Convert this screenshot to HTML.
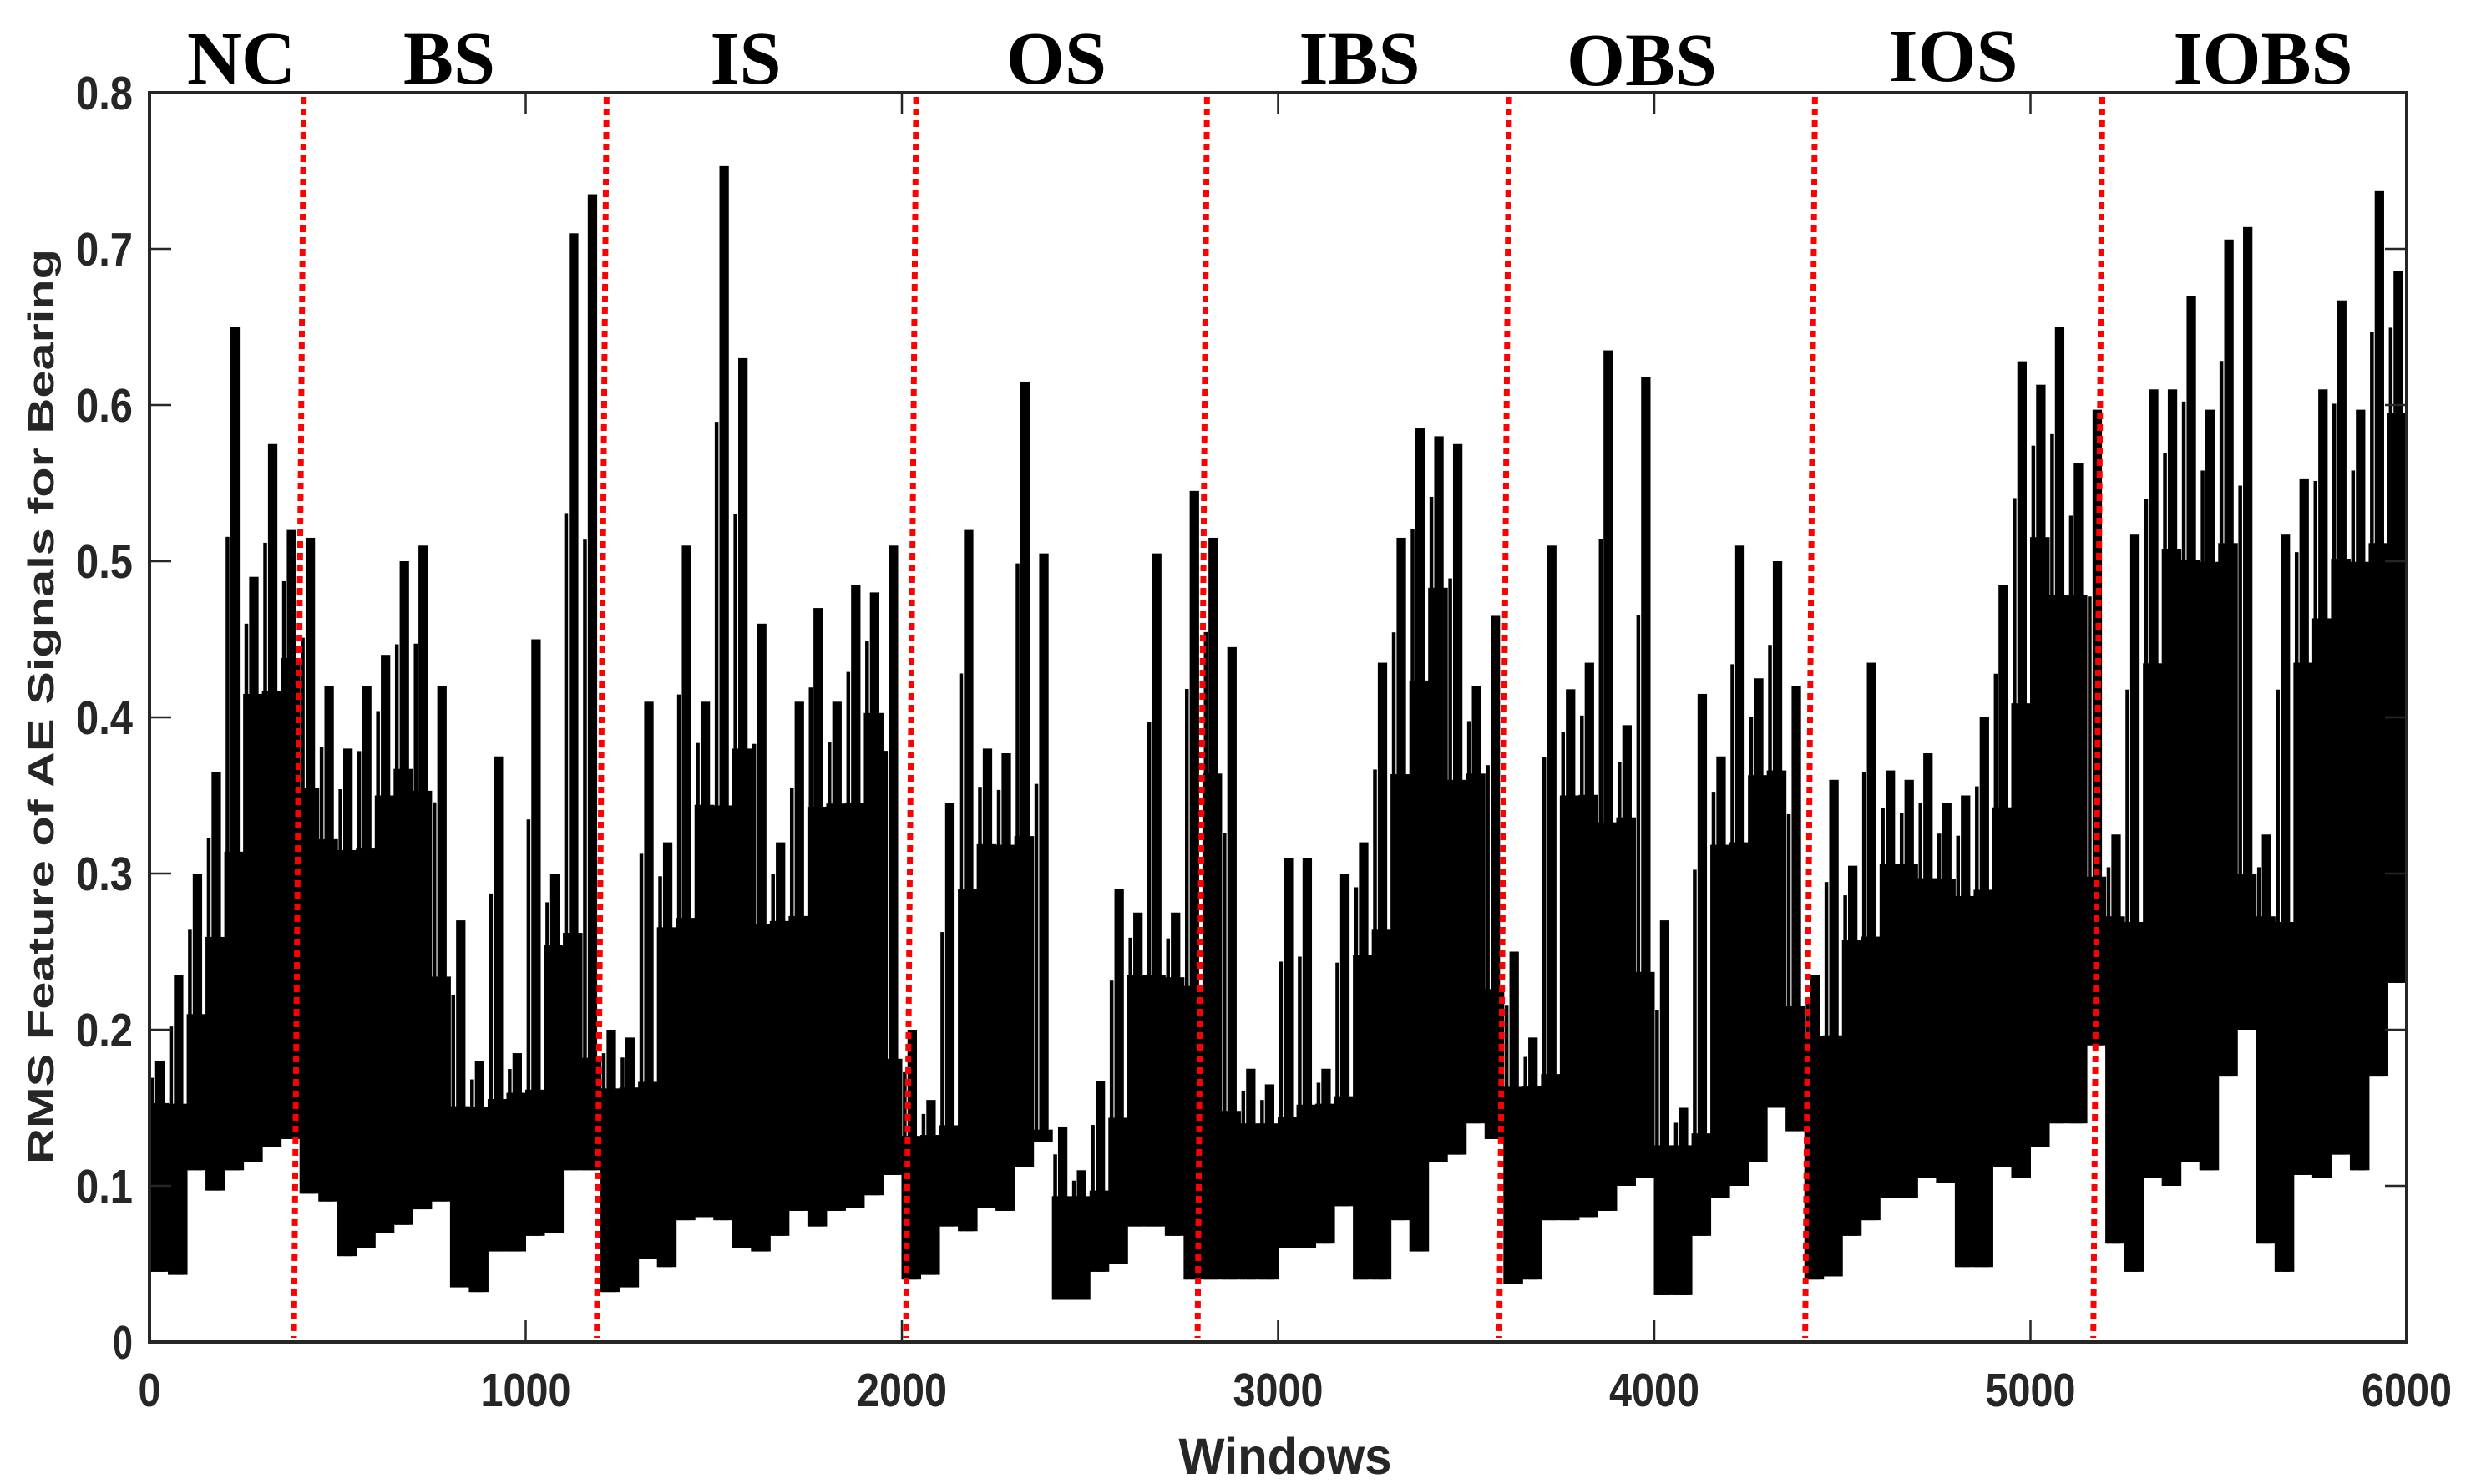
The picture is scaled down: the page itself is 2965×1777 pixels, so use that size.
<!DOCTYPE html>
<html><head><meta charset="utf-8"><style>
html,body{margin:0;padding:0;background:#fff;}
svg{display:block;}
</style></head><body>
<svg id="chart" width="2965" height="1777" viewBox="0 0 2965 1777" xmlns="http://www.w3.org/2000/svg">
<g id="marks"></g>
<g id="dividers"></g>
<g id="axes"></g>
<g id="labels"></g>
</svg>
<script>
// Data (per 50-window bin, 0..6000)
const binSize = 50;
const highVals = [0.18,0.235,0.30,0.365,0.65,0.49,0.575,0.52,0.515,0.42,0.38,0.42,0.44,0.50,0.51,0.42,0.27,0.18,0.375,0.185,0.45,0.30,0.71,0.735,
0.20,0.195,0.41,0.32,0.51,0.41,0.753,0.63,0.46,0.32,0.41,0.47,0.41,0.485,0.48,0.51,
0.20,0.155,0.345,0.52,0.38,0.377,0.615,0.505,0.138,0.11,0.167,0.29,0.275,0.505,0.275,0.545,
0.515,0.445,0.175,0.165,0.31,0.31,0.175,0.30,0.32,0.435,0.515,0.585,0.58,0.575,0.42,0.465,
0.25,0.195,0.51,0.418,0.435,0.635,0.395,0.618,0.27,0.15,0.415,0.375,0.51,0.425,0.50,0.42,
0.235,0.36,0.305,0.435,0.366,0.36,0.377,0.345,0.35,0.40,0.485,0.628,0.613,0.65,0.563,0.597,
0.325,0.517,0.61,0.61,0.67,0.597,0.706,0.714,0.325,0.517,0.553,0.61,0.667,0.597,0.737,0.686];
const lowVals = [0.045,0.043,0.11,0.097,0.11,0.115,0.125,0.13,0.095,0.09,0.055,0.06,0.07,0.075,0.085,0.09,0.035,0.032,0.058,0.058,0.068,0.07,0.11,0.11,
0.032,0.035,0.053,0.048,0.078,0.08,0.078,0.06,0.058,0.068,0.084,0.074,0.084,0.086,0.094,0.107,
0.04,0.043,0.074,0.071,0.086,0.084,0.112,0.128,0.027,0.027,0.045,0.05,0.074,0.074,0.068,0.04,
0.04,0.04,0.04,0.04,0.06,0.06,0.063,0.087,0.04,0.04,0.078,0.058,0.115,0.12,0.14,0.13,
0.037,0.04,0.078,0.078,0.08,0.084,0.10,0.105,0.03,0.03,0.068,0.092,0.10,0.115,0.15,0.135,
0.04,0.042,0.068,0.078,0.092,0.092,0.105,0.102,0.048,0.048,0.112,0.105,0.125,0.14,0.14,0.19,
0.063,0.045,0.105,0.10,0.115,0.11,0.17,0.20,0.063,0.045,0.107,0.105,0.12,0.11,0.17,0.23];
const dividerTop = [410,1215,2038,2811,3614,4427,5191];
const dividerBottom = [384,1189,2011,2786,3588,4401,5167];
const xTicks = [0,1000,2000,3000,4000,5000,6000];
const yTicks = [0,0.1,0.2,0.3,0.4,0.5,0.6,0.7,0.8];
const classNames = ["NC","BS","IS","OS","IBS","OBS","IOS","IOBS"];
const classCenterPx = [289,538,893,1265,1628,1966,2339,2710];
const classBaseline = [100,100,100,100,100,102,97,100];

const L=179,R=2882,T=111,B=1607;
const xS = w => L + (w/6000)*(R-L);
const yS = v => B - (v/0.8)*(B-T);
const NS="http://www.w3.org/2000/svg";
function mk(tag, attrs, parent){const e=document.createElementNS(NS,tag);for(const k in attrs)e.setAttribute(k,attrs[k]);parent.appendChild(e);return e;}

// signal: body (full-width, up to lowest neighbouring peak) + narrow spike to the bin peak
const marks=document.getElementById('marks');
const n=highVals.length;
for(let i=0;i<n;i++){
  const x0=xS(i*binSize), x1=xS((i+1)*binSize), w=x1-x0;
  const nb=Math.min(highVals[i], i>0?highVals[i-1]:highVals[i], i<n-1?highVals[i+1]:highVals[i]);
  const bodyTop=lowVals[i]+(nb-lowVals[i])*0.8;
  const body=mk('rect',{x:x0-0.5,y:yS(bodyTop),width:w+1,height:yS(lowVals[i])-yS(bodyTop),fill:"#000"},marks);
  
  
  const sp=mk('rect',{x:x0+w*0.3,y:yS(highVals[i]),width:w*0.5,height:yS(lowVals[i])-yS(highVals[i]),fill:"#000"},marks);
  
  
  const sp2=mk('rect',{x:x0+w*0.05,y:yS(bodyTop+(highVals[i]-bodyTop)*0.6),width:w*0.2,height:yS(lowVals[i])-yS(bodyTop+(highVals[i]-bodyTop)*0.6),fill:"#000"},marks);
  
  
}

// dividers
const dv=document.getElementById('dividers');
for(let i=0;i<dividerTop.length;i++){
  const ln=mk('line',{x1:xS(dividerTop[i]),y1:T+5,x2:xS(dividerBottom[i]),y2:B-5,stroke:"#ff0000","stroke-width":7,"stroke-dasharray":"8 6"},dv);
  
  
}

// axes
const ax=document.getElementById('axes');
const box=mk('rect',{x:L,y:T,width:R-L,height:B-T,fill:"none",stroke:"#262626","stroke-width":4},ax);


const tf="font-family:'Liberation Sans',Arial,sans-serif;font-weight:bold;fill:#262626";
xTicks.forEach(t=>{
  const x=xS(t);
  mk('line',{x1:x,y1:B,x2:x,y2:B-26,stroke:"#262626","stroke-width":2.5},ax);
  mk('line',{x1:x,y1:T,x2:x,y2:T+26,stroke:"#262626","stroke-width":2.5},ax);
  const s=String(t);
  const tx=mk('text',{x:x,y:1684,"text-anchor":"middle","font-size":57,style:tf,textLength:s.length*27,lengthAdjust:"spacingAndGlyphs"},ax);
  tx.textContent=s;
  
  
});
yTicks.forEach(t=>{
  const y=yS(t);
  mk('line',{x1:L,y1:y,x2:L+26,y2:y,stroke:"#262626","stroke-width":2.5},ax);
  mk('line',{x1:R,y1:y,x2:R-26,y2:y,stroke:"#262626","stroke-width":2.5},ax);
  const s=t===0?"0":t.toFixed(1);
  const tx=mk('text',{x:159,y:y+20,"text-anchor":"end","font-size":57,style:tf,textLength:s.length===1?24:68,lengthAdjust:"spacingAndGlyphs"},ax);
  tx.textContent=s;
  
  
});
const xt=mk('text',{x:1539,y:1765,"text-anchor":"middle","font-size":61,style:tf,textLength:255,lengthAdjust:"spacingAndGlyphs"},ax);
xt.textContent="Windows";


const yt=mk('text',{x:0,y:0,"text-anchor":"middle","font-size":44,style:tf,textLength:1096,lengthAdjust:"spacingAndGlyphs",transform:"translate(64,846) rotate(-90)"},ax);
yt.textContent="RMS Feature of AE Signals for Bearing";



// class labels
const lb=document.getElementById('labels');
classNames.forEach((n,i)=>{
  const tx=mk('text',{x:classCenterPx[i],y:classBaseline[i],"text-anchor":"middle","font-size":90,style:"font-family:'Liberation Serif','Times New Roman',serif;font-weight:bold;fill:#000"},lb);
  tx.textContent=n;
  
  
});
</script>
</body></html>
